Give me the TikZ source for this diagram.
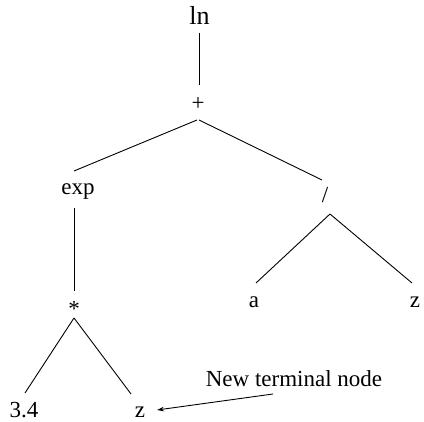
\documentclass[tikz,border=0pt]{standalone}
\usepackage{fontspec}
\setmainfont{Liberation Serif}
\usetikzlibrary{arrows.meta}
\tikzset{
  term/.style={inner sep=0pt, anchor=base, font=\fontsize{23}{27}\selectfont},
  branch/.style={draw=black, line width=0.9pt},
  pointer/.style={branch, -{Stealth[length=7pt,width=4.5pt]}}
}
\begin{document}
\begin{tikzpicture}[x=1pt,y=-1pt]
  \useasboundingbox (0,0) rectangle (424,422);
  % expression tree nodes
  \node[term, font=\fontsize{26}{30}\selectfont] (ln) at (199.5,25) {ln};
  \node[term] (plus) at (198,111)   {+};
  \node[term] (exp)  at (78,195)    {exp};
  \node[term] (div)  at (325,203)   {/};
  \node[term] (star) at (74,316.5)  {*};
  \node[term] (a)    at (254,308)   {a};
  \node[term] (zr)   at (415,308)   {z};
  \node[term] (num)  at (24,418)    {3.4};
  \node[term] (zl)   at (140,418)   {z};
  \node[term] (note) at (294,387)   {New terminal node};
  % tree branches
  \draw[branch] ([xshift=-0.5pt,yshift=-8pt]ln.base) -- ([xshift=1pt,yshift=26pt]plus.base);
  \draw[branch] ([xshift=-1pt,yshift=-9pt]plus.base) -- ([xshift=-4pt,yshift=24pt]exp.base);
  \draw[branch] ([xshift=1pt,yshift=-9pt]plus.base) -- ([xshift=-3pt,yshift=23pt]div.base);
  \draw[branch] ([xshift=-4pt,yshift=-13pt]exp.base) -- ([yshift=25.5pt]star.base);
  \draw[branch] ([xshift=5pt,yshift=-11pt]div.base) -- ([xshift=2pt,yshift=25pt]a.base);
  \draw[branch] ([xshift=5pt,yshift=-11pt]div.base) -- ([xshift=-3pt,yshift=25pt]zr.base);
  \draw[branch] ([yshift=-1.5pt]star.base) -- ([xshift=1pt,yshift=25pt]num.base);
  \draw[branch] ([yshift=-1.5pt]star.base) -- ([xshift=-9pt,yshift=24pt]zl.base);
  % annotation arrow
  \draw[pointer] ([xshift=-21pt,yshift=-7pt]note.base) -- ([xshift=17pt,yshift=8pt]zl.base);
\end{tikzpicture}
\end{document}
